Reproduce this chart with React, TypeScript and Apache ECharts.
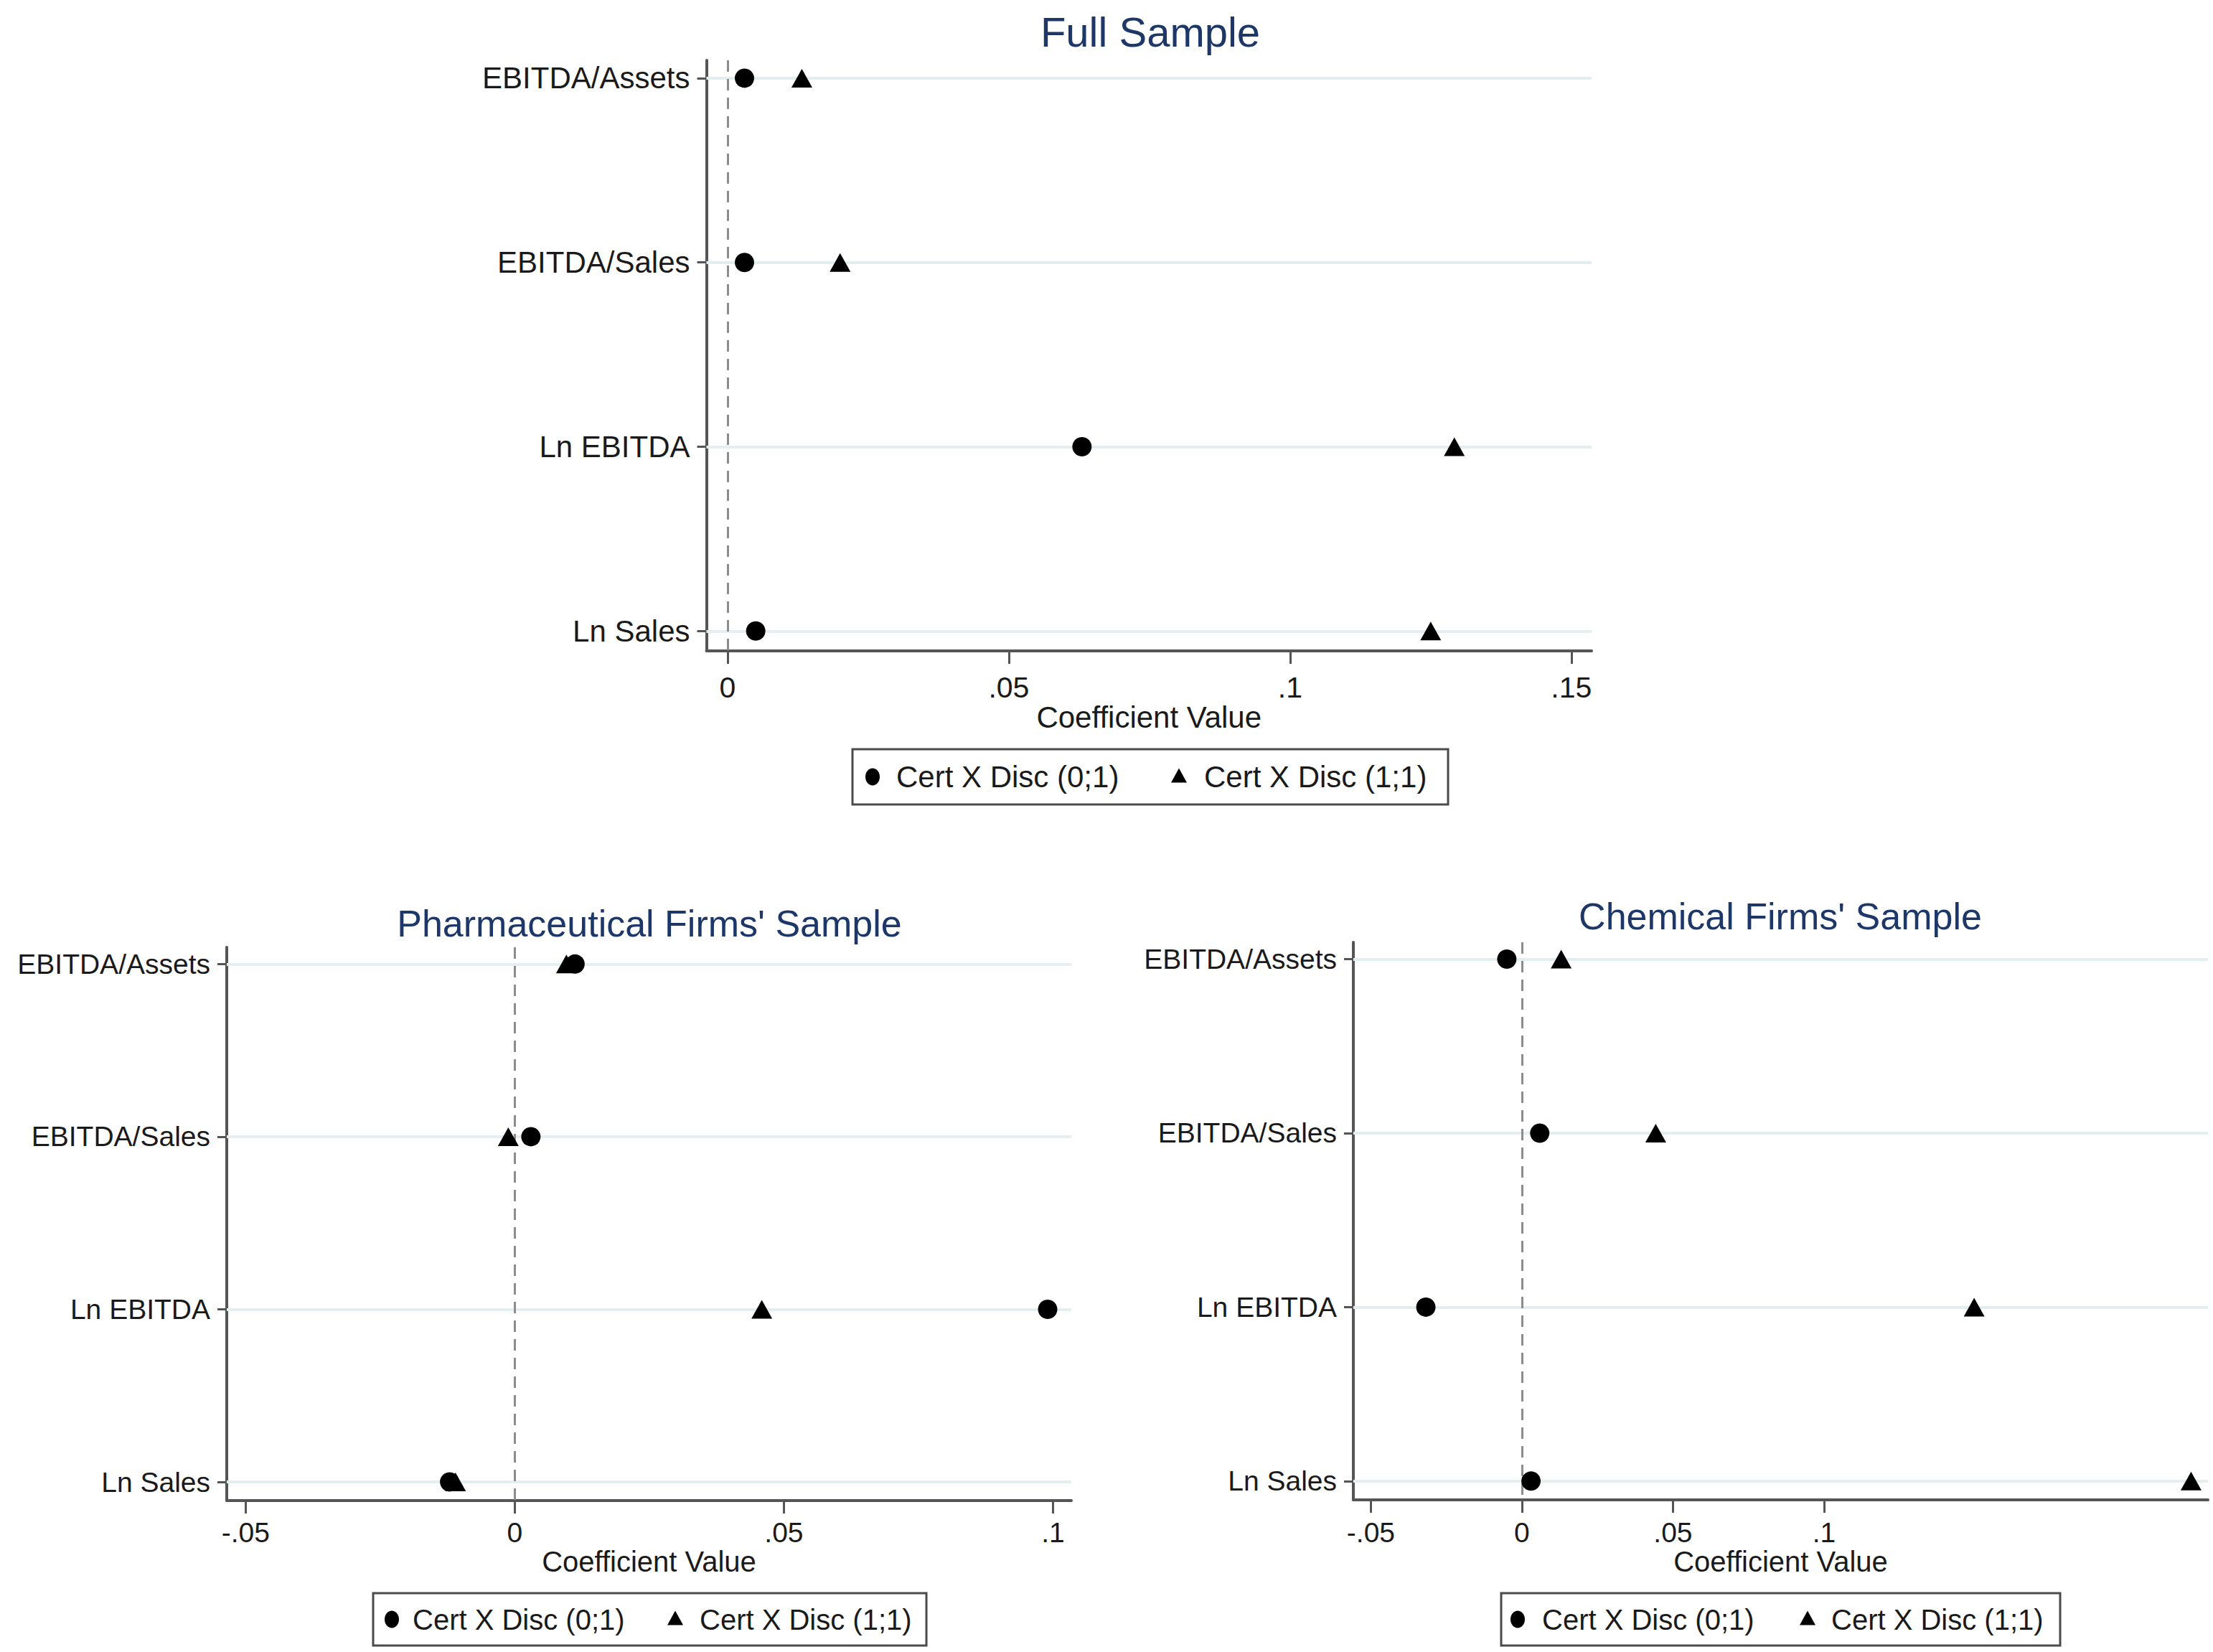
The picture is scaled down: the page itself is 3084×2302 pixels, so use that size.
import React, { useEffect, useRef } from 'react';
import * as echarts from 'echarts';

// ---------- data ----------
const categories = ['EBITDA/Assets', 'EBITDA/Sales', 'Ln EBITDA', 'Ln Sales'];
const seriesNames = ['Cert X Disc (0;1)', 'Cert X Disc (1;1)'];
const titles = ['Full Sample', "Pharmaceutical Firms' Sample", "Chemical Firms' Sample"];
const axisTitle = 'Coefficient Value';

const fullCert01 = [0.003, 0.003, 0.063, 0.005];
const fullCert11 = [0.0132, 0.02, 0.1292, 0.125];
const pharmaCert01 = [0.0112, 0.003, 0.099, -0.0121];
const pharmaCert11 = [0.0096, -0.0012, 0.0459, -0.011];
const chemCert01 = [-0.005, 0.0059, -0.0318, 0.003];
const chemCert11 = [0.013, 0.0443, 0.1497, 0.2215];

const fullTicks = [0, 0.05, 0.1, 0.15];
const pharmaTicks = [-0.05, 0, 0.05, 0.1];
const chemTicks = [-0.05, 0, 0.05, 0.1];

// ---------- layout ----------
const FONT = "'Liberation Sans', Arial, Helvetica, sans-serif";
const TITLE_COLOR = '#1c3768';
const TEXT_COLOR = '#1a1a1a';
const AXIS_COLOR = '#555555';

const panels = [
  {
    title: titles[0], c01: fullCert01, c11: fullCert11, ticks: fullTicks,
    xMin: -0.00376, xMax: 0.1536, yMin: -0.097, yMax: 3.108,
    left: 984.5, top: 84, width: 1233.5, height: 823,
    titleX: 1603, titleY: 44, titleSize: 58, fontSize: 41, yFontSize: 42, labelMargin: 30, nameGap: 67,
    legend: { x: 1188, y: 1044, w: 830, h: 77, c1: 1216, t1: 1249, c2: 1643, t2: 1678, fontSize: 42 },
  },
  {
    title: titles[1], c01: pharmaCert01, c11: pharmaCert11, ticks: pharmaTicks,
    xMin: -0.0535, xMax: 0.1034, yMin: -0.097, yMax: 3.108,
    left: 316, top: 1320, width: 1177, height: 771,
    titleX: 905, titleY: 1287, titleSize: 52, fontSize: 39, yFontSize: 39, labelMargin: 25, nameGap: 64,
    legend: { x: 520, y: 2220, w: 771, h: 73, c1: 546, t1: 575, c2: 941, t2: 975, fontSize: 40 },
  },
  {
    title: titles[2], c01: chemCert01, c11: chemCert11, ticks: chemTicks,
    xMin: -0.0558, xMax: 0.2271, yMin: -0.097, yMax: 3.108,
    left: 1886, top: 1313, width: 1191, height: 777,
    titleX: 2481, titleY: 1277, titleSize: 52, fontSize: 39, yFontSize: 39, labelMargin: 26, nameGap: 63,
    legend: { x: 2092, y: 2220, w: 779, h: 73, c1: 2115, t1: 2149, c2: 2519, t2: 2552, fontSize: 40 },
  },
];

const stataFmt = (v: number) => {
  if (Math.abs(v) < 1e-12) return '0';
  const s = String(Math.round(v * 1000) / 1000);
  return s.replace('0.', '.');
};

function buildOption() {
  const grid: any[] = [];
  const xAxis: any[] = [];
  const yAxis: any[] = [];
  const series: any[] = [];
  const graphic: any[] = [];

  panels.forEach((p, gi) => {
    grid.push({ left: p.left, top: p.top, width: p.width, height: p.height, containLabel: false });
    xAxis.push({
      type: 'value', gridIndex: gi, min: p.xMin, max: p.xMax,
      name: axisTitle, nameLocation: 'middle', nameGap: p.nameGap,
      nameTextStyle: { fontSize: p.fontSize + 1, color: TEXT_COLOR, fontFamily: FONT },
      axisLine: { show: true, onZero: false, lineStyle: { color: AXIS_COLOR, width: 4 } },
      axisTick: { show: true, length: 18, customValues: p.ticks, lineStyle: { color: AXIS_COLOR, width: 3 } },
      axisLabel: {
        show: true, customValues: p.ticks, formatter: stataFmt, margin: p.labelMargin,
        fontSize: p.fontSize, color: TEXT_COLOR, fontFamily: FONT,
      },
      splitLine: { show: false },
    });
    yAxis.push({
      type: 'value', gridIndex: gi, inverse: true, min: p.yMin, max: p.yMax,
      axisLine: { show: true, onZero: false, lineStyle: { color: AXIS_COLOR, width: 4 } },
      axisTick: { show: true, length: 13, customValues: [0, 1, 2, 3], lineStyle: { color: AXIS_COLOR, width: 3 } },
      axisLabel: {
        show: true, customValues: [0, 1, 2, 3],
        formatter: (v: number) => categories[Math.round(v)] ?? '',
        margin: 23, fontSize: p.yFontSize, color: TEXT_COLOR, fontFamily: FONT,
      },
      splitLine: { show: false },
    });

    series.push({
      type: 'scatter', name: seriesNames[0], xAxisIndex: gi, yAxisIndex: gi, z: 10,
      symbol: 'circle', symbolSize: 27,
      itemStyle: { color: '#000000', opacity: 1 },
      data: p.c01.map((v, i) => [v, i]),
      markLine: {
        silent: true, symbol: ['none', 'none'], label: { show: false }, animation: false,
        data: [
          ...categories.map((_, i) => ({ yAxis: i, lineStyle: { color: '#e2eef0', width: 4, type: 'solid' } })),
          { xAxis: 0, lineStyle: { color: '#8c8c8c', width: 3, type: [16, 10] } },
        ],
      },
    });
    series.push({
      type: 'scatter', name: seriesNames[1], xAxisIndex: gi, yAxisIndex: gi, z: 10,
      symbol: 'triangle', symbolSize: [29, 26],
      itemStyle: { color: '#000000', opacity: 1 },
      data: p.c11.map((v, i) => [v, i]),
    });

    // title
    graphic.push({
      type: 'text', x: p.titleX, y: p.titleY, z: 20,
      style: {
        text: p.title, fill: TITLE_COLOR, font: `${p.titleSize}px ${FONT}`,
        textAlign: 'center', textVerticalAlign: 'middle',
      },
    });
    // legend
    const L = p.legend;
    const cy = L.y + L.h / 2;
    graphic.push({
      type: 'rect', z: 20,
      shape: { x: L.x, y: L.y, width: L.w, height: L.h },
      style: { fill: '#ffffff', stroke: '#4a4a4a', lineWidth: 3 },
    });
    graphic.push({
      type: 'ellipse', z: 21,
      shape: { cx: L.c1, cy: cy, rx: 10, ry: 12 },
      style: { fill: '#000000' },
    });
    graphic.push({
      type: 'text', x: L.t1, y: cy, z: 21,
      style: { text: seriesNames[0], fill: TEXT_COLOR, font: `${L.fontSize}px ${FONT}`, textAlign: 'left', textVerticalAlign: 'middle' },
    });
    graphic.push({
      type: 'polygon', z: 21,
      shape: { points: [[L.c2 - 11, cy + 8], [L.c2 + 11, cy + 8], [L.c2, cy - 12]] },
      style: { fill: '#000000' },
    });
    graphic.push({
      type: 'text', x: L.t2, y: cy, z: 21,
      style: { text: seriesNames[1], fill: TEXT_COLOR, font: `${L.fontSize}px ${FONT}`, textAlign: 'left', textVerticalAlign: 'middle' },
    });
  });

  return {
    animation: false,
    backgroundColor: '#ffffff',
    textStyle: { fontFamily: FONT },
    grid, xAxis, yAxis, series, graphic,
  };
}

export default function App() {
  const ref = useRef<HTMLDivElement>(null);
  useEffect(() => {
    if (!ref.current) return;
    const chart = echarts.init(ref.current, null, { renderer: 'svg' });
    chart.setOption(buildOption() as any);
    return () => chart.dispose();
  }, []);
  return (
    <div
      ref={ref}
      style={{ position: 'fixed', left: 0, top: 0, width: 3084, height: 2302, background: '#ffffff' }}
    />
  );
}
